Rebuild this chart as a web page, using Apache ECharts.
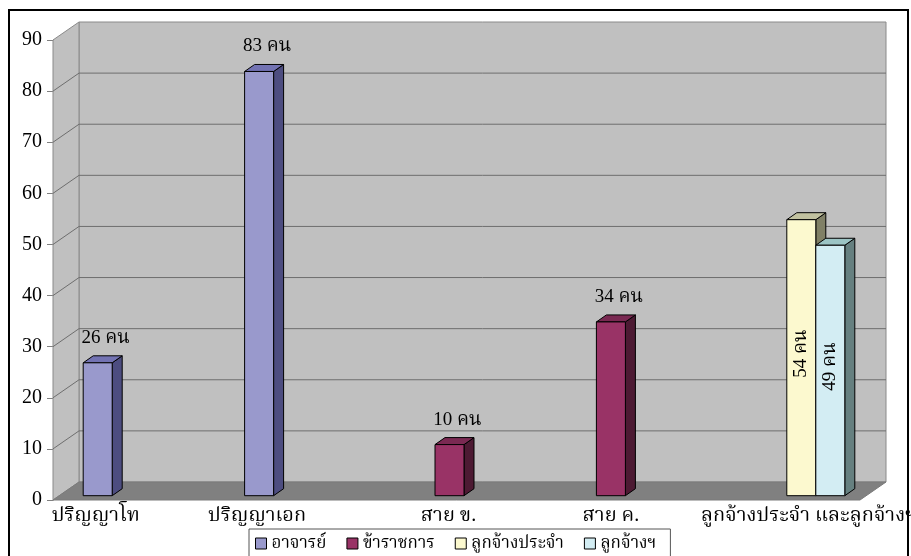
<!DOCTYPE html>
<html><head><meta charset="utf-8">
<script src="https://cdn.jsdelivr.net/npm/echarts@6/dist/echarts.min.js"></script>
<style>html,body{margin:0;padding:0;background:#fff}#c{width:911px;height:556px}</style>
</head><body><div id="c"></div>
<script>
// ---------- data ----------
const categories = ['ปริญญาโท', 'ปริญญาเอก', 'สาย ข.', 'สาย ค.', 'ลูกจ้างประจำ และลูกจ้างฯ'];
const seriesNames = ['อาจารย์', 'ข้าราชการ', 'ลูกจ้างประจำ', 'ลูกจ้างฯ'];
const lecturerValues  = [26, 83, null, null, null];
const officerValues   = [null, null, 10, 34, null];
const permanentValues = [null, null, null, null, 54];
const employeeValues  = [null, null, null, null, 49];
const yMin = 0, yMax = 90, yStep = 10;
const unitText = 'คน';

// ---------- styles ----------
const FONT = '"Liberation Serif","Times New Roman","Noto Serif Thai","Noto Sans Thai",serif';
const WALL_DX = 26, WALL_DY = -18;
const BAR_DX = 7.5, BAR_DY = -4.3;
const DEPTH_DX = 10, DEPTH_DY = -7;
const BAR_W_RATIO = 29 / 161.4;
const palettes = [
  {front: '#9999cc', top: '#7373b3', side: '#4d4d80'},
  {front: '#993366', top: '#7a2952', side: '#4d1a33'},
  {front: '#fcf9cf', top: '#c2c2a0', side: '#808066'},
  {front: '#d3edf3', top: '#9cc4c4', side: '#668080'}
];
const rotatedLabel = [false, false, true, true];
const labelShift = [-38, -38, -8, -7, 29];
const allValues = [lecturerValues, officerValues, permanentValues, employeeValues];

function wallRender(params, api) {
  const cs = params.coordSys;
  const X0 = cs.x, X1 = cs.x + cs.width;
  const y0 = api.coord([0, yMin])[1];
  const yTop = api.coord([0, yMax])[1];
  const children = [];
  children.push({type: 'rect', shape: {x: X0 + WALL_DX, y: yTop + WALL_DY, width: X1 - X0, height: y0 - yTop},
    style: {fill: '#c0c0c0', stroke: '#8a8a8a', lineWidth: 1}});
  children.push({type: 'polygon', shape: {points: [[X0, y0], [X0, yTop], [X0 + WALL_DX, yTop + WALL_DY], [X0 + WALL_DX, y0 + WALL_DY]]},
    style: {fill: '#c0c0c0', stroke: '#8a8a8a', lineWidth: 1}});
  for (let v = yMin + yStep; v < yMax; v += yStep) {
    const y = api.coord([0, v])[1];
    children.push({type: 'line', shape: {x1: X0 + WALL_DX, y1: y + WALL_DY, x2: X1 + WALL_DX, y2: y + WALL_DY},
      style: {stroke: '#6e6e6e', lineWidth: 1}});
    children.push({type: 'line', shape: {x1: X0, y1: y, x2: X0 + WALL_DX, y2: y + WALL_DY},
      style: {stroke: '#6e6e6e', lineWidth: 1}});
  }
  children.push({type: 'polygon', shape: {points: [[X0, y0], [X0 + WALL_DX, y0 + WALL_DY], [X1 + WALL_DX, y0 + WALL_DY], [X1, y0]]},
    style: {fill: '#808080', stroke: '#7a7a7a', lineWidth: 1}});
  return {type: 'group', children: children};
}

function makeBarRender(s) {
  const pal = palettes[s];
  return function (params, api) {
    const ci = api.value(0), v = api.value(1);
    const top = api.coord([ci, v]);
    const bot = api.coord([ci, 0]);
    const w = api.size([1, 0])[0];
    const bw = w * BAR_W_RATIO;
    const nS = seriesNames.length;
    const x0 = top[0] - nS * bw / 2 + s * bw + BAR_DX;
    const x1 = x0 + bw;
    const yT = top[1] + BAR_DY, yB = bot[1] + BAR_DY;
    const st = {stroke: '#000', lineWidth: 1, lineJoin: 'round'};
    const children = [
      {type: 'polygon', shape: {points: [[x1, yB], [x1, yT], [x1 + DEPTH_DX, yT + DEPTH_DY], [x1 + DEPTH_DX, yB + DEPTH_DY]]},
        style: Object.assign({fill: pal.side}, st)},
      {type: 'polygon', shape: {points: [[x0, yT], [x1, yT], [x1 + DEPTH_DX, yT + DEPTH_DY], [x0 + DEPTH_DX, yT + DEPTH_DY]]},
        style: Object.assign({fill: pal.top}, st)},
      {type: 'rect', shape: {x: x0, y: yT, width: bw, height: yB - yT},
        style: Object.assign({fill: pal.front}, st)}
    ];
    const txt = v + ' ' + unitText;
    if (rotatedLabel[s]) {
      children.push({type: 'text', x: x0 + bw / 2, y: (yT + yB) / 2 - 4, rotation: Math.PI / 2,
        style: {text: txt, fill: '#000', font: '19px ' + FONT, align: 'center', verticalAlign: 'middle'}});
    } else {
      children.push({type: 'text', x: x0 + bw / 2 + 8, y: yT + DEPTH_DY - 18,
        style: {text: txt, fill: '#000', font: '19px ' + FONT, align: 'center', verticalAlign: 'middle'}});
    }
    return {type: 'group', children: children};
  };
}

const series = [{
  type: 'custom', name: '__walls', silent: true, z: 1, clip: false,
  renderItem: wallRender, data: [[0, 0]], legendHoverLink: false
}];
allValues.forEach(function (vals, s) {
  const d = [];
  vals.forEach(function (v, i) { if (v != null) d.push([i, v]); });
  series.push({
    type: 'custom', name: seriesNames[s], z: 3 + s, clip: false, silent: true,
    itemStyle: {color: palettes[s].front},
    renderItem: makeBarRender(s), data: d
  });
});

const xData = categories.map(function (c, i) {
  const sh = labelShift[i];
  return {value: c, textStyle: {padding: sh < 0 ? [0, -2 * sh, 0, 0] : [0, 0, 0, 2 * sh]}};
});

const chart = echarts.init(document.getElementById('c'), null, {renderer: 'canvas'});
chart.setOption({
  animation: false,
  backgroundColor: '#fff',
  grid: {left: 53, right: 51, top: 40, bottom: 56, outerBoundsMode: 'none', containLabel: false},
  xAxis: {
    type: 'category', data: xData, boundaryGap: true,
    axisLine: {show: false}, axisTick: {show: false}, splitLine: {show: false},
    axisLabel: {fontFamily: FONT, fontSize: 20, color: '#000', margin: 6, interval: 0, hideOverlap: false}
  },
  yAxis: {
    type: 'value', min: yMin, max: yMax, interval: yStep,
    axisLine: {show: true, lineStyle: {color: '#808080', width: 1}},
    axisTick: {show: true, length: 6, lineStyle: {color: '#808080'}},
    splitLine: {show: false},
    axisLabel: {fontFamily: FONT, fontSize: 20, color: '#000', margin: 11}
  },
  legend: {
    data: seriesNames, left: 249, top: 529, orient: 'horizontal',
    icon: 'rect', itemWidth: 11, itemHeight: 11, itemGap: 20,
    padding: [6, 14, 14, 6], borderColor: '#555', borderWidth: 1, backgroundColor: '#fff',
    itemStyle: {borderColor: '#000', borderWidth: 1},
    textStyle: {fontFamily: FONT, fontSize: 17, color: '#000'},
    selectedMode: false
  },
  graphic: [{
    type: 'rect', silent: true, z: 100,
    shape: {x: 9, y: 10, width: 899, height: 560},
    style: {fill: 'none', stroke: '#000', lineWidth: 2}
  }],
  series: series
});
</script>
</body></html>
